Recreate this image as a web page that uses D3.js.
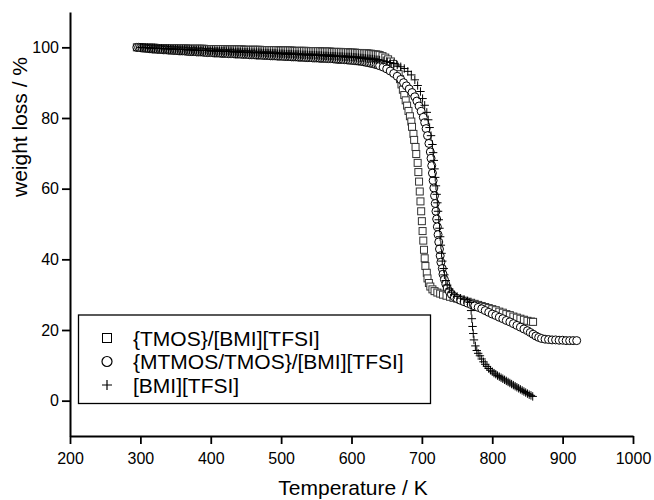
<!DOCTYPE html>
<html><head><meta charset="utf-8">
<script src="https://cdn.jsdelivr.net/npm/d3@7"></script>
<style>body{margin:0;background:#fff}text{font-family:Arial,"Liberation Sans",sans-serif;fill:#000}</style>
</head><body><svg id="c" width="654" height="500"></svg>
<script>
const xMajorTicks=[200,300,400,500,600,700,800,900,1000];
const xMinorTicks=[250,350,450,550,650,750,850,950];
const yMajorTicks=[0,20,40,60,80,100];
const yMinorTicks=[-10,10,30,50,70,90,110];
const seriesNames=["{TMOS}/[BMI][TFSI]","{MTMOS/TMOS}/[BMI][TFSI]","[BMI][TFSI]"];
const xTitle="Temperature / K", yTitle="weight loss / %";

// plateau region: shared temperature readings (K)
const plateauT=[295,297.5,300,302.5,305,307.5,310,312.5,315,317.5,
320,322.5,325,327.5,330,332.5,335,337.5,340,342.5,
345,347.5,350,352.5,355,357.5,360,362.5,365,367.5,
370,372.5,375,377.5,380,382.5,385,387.5,390,392.5,
395,397.5,400,402.5,405,407.5,410,412.5,415,417.5,
420,422.5,425,427.5,430,432.5,435,437.5,440,442.5,
445,447.5,450,452.5,455,457.5,460,462.5,465,467.5,
470,472.5,475,477.5,480,482.5,485,487.5,490,492.5,
495,497.5,500,502.5,505,507.5,510,512.5,515,517.5,
520,522.5,525,527.5,530,532.5,535,537.5,540,542.5,
545,547.5,550,552.5,555,557.5,560,562.5,565,567.5,
570,572.5,575,577.5,580,582.5,585,587.5,590,592.5,
595,597.5,600,602.5,605,607.5,610,612.5,615,617.5,
620,622.5,625,627.5,630,632.5,635,637.5,640];
const tmosPlateau=[100.0,100.0,100.0,100.0,99.9,99.9,99.9,99.9,99.9,99.9,
99.9,99.8,99.8,99.8,99.8,99.8,99.8,99.8,99.8,99.7,
99.7,99.7,99.7,99.7,99.7,99.7,99.7,99.7,99.7,99.6,
99.6,99.6,99.6,99.6,99.6,99.6,99.6,99.6,99.6,99.5,
99.5,99.5,99.5,99.5,99.5,99.5,99.5,99.5,99.5,99.5,
99.5,99.4,99.4,99.4,99.4,99.4,99.4,99.4,99.4,99.4,
99.4,99.3,99.3,99.3,99.3,99.3,99.3,99.3,99.3,99.3,
99.3,99.2,99.2,99.2,99.2,99.2,99.2,99.2,99.2,99.2,
99.2,99.1,99.1,99.1,99.1,99.1,99.1,99.1,99.1,99.0,
99.0,99.0,99.0,99.0,99.0,99.0,99.0,98.9,98.9,98.9,
98.9,98.9,98.9,98.9,98.9,98.8,98.8,98.8,98.8,98.8,
98.8,98.7,98.7,98.7,98.7,98.7,98.7,98.6,98.6,98.6,
98.6,98.5,98.5,98.5,98.5,98.4,98.4,98.4,98.4,98.3,
98.3,98.3,98.2,98.2,98.1,98.0,98.0,97.9,97.8];
const mtmosPlateau=[100.0,100.0,99.9,99.8,99.8,99.7,99.7,99.6,99.6,99.5,
99.5,99.5,99.4,99.4,99.4,99.3,99.3,99.3,99.2,99.2,
99.2,99.1,99.1,99.1,99.0,99.0,99.0,99.0,98.9,98.9,
98.8,98.8,98.8,98.8,98.7,98.7,98.7,98.7,98.6,98.6,
98.5,98.5,98.5,98.5,98.4,98.4,98.4,98.4,98.3,98.3,
98.3,98.3,98.2,98.2,98.2,98.2,98.1,98.1,98.1,98.1,
98.0,98.0,98.0,98.0,97.9,97.9,97.9,97.9,97.8,97.8,
97.8,97.8,97.7,97.7,97.7,97.7,97.6,97.6,97.6,97.6,
97.5,97.5,97.5,97.5,97.4,97.4,97.4,97.4,97.3,97.3,
97.3,97.3,97.2,97.2,97.2,97.2,97.1,97.1,97.1,97.1,
97.0,97.0,97.0,97.0,96.9,96.9,96.9,96.9,96.8,96.8,
96.8,96.8,96.7,96.7,96.6,96.6,96.6,96.6,96.5,96.5,
96.4,96.4,96.3,96.3,96.2,96.2,96.1,96.1,96.0,95.9,
95.8,95.7,95.6,95.5,95.4,95.3,95.1,95.0,94.8];
const bmiPlateau=[null,null,100.0,100.0,99.9,99.9,99.9,99.8,99.8,99.8,
99.8,99.7,99.7,99.7,99.7,99.6,99.6,99.6,99.6,99.5,
99.5,99.5,99.5,99.5,99.4,99.4,99.4,99.4,99.3,99.3,
99.3,99.3,99.2,99.2,99.2,99.2,99.1,99.1,99.1,99.1,
99.1,99.0,99.0,99.0,99.0,98.9,98.9,98.9,98.9,98.9,
98.9,98.8,98.8,98.8,98.8,98.7,98.7,98.7,98.7,98.7,
98.6,98.6,98.6,98.6,98.5,98.5,98.5,98.5,98.5,98.5,
98.5,98.4,98.4,98.4,98.4,98.3,98.3,98.3,98.3,98.3,
98.2,98.2,98.2,98.2,98.1,98.1,98.1,98.1,98.1,98.0,
98.0,98.0,98.0,97.9,97.9,97.9,97.9,97.9,97.8,97.8,
97.8,97.8,97.8,97.7,97.7,97.7,97.6,97.6,97.6,97.5,
97.5,97.5,97.5,97.5,97.4,97.4,97.4,97.4,97.3,97.3,
97.3,97.3,97.3,97.2,97.2,97.1,97.1,97.0,97.0,96.9,
96.9,96.8,96.8,96.7,96.7,96.6,96.5,96.5,96.4];

// decomposition and residue region: [T (K), weight %]
const tmosHigh=[[644,97.5],[648,97.1],[652,96.6],[656,96.0],[659,95.3],[662,94.5],[665,93.6],[667,92.4],[669,91.0],[671,89.5],[673,88.0],[675,86.5],[677,85.0],[679,83.5],[681,82.0],[683,80.5],[685,79.0],[686,77.5],[688,75.5],[689,73.8],[691,71.8],[692,69.8],[694,67.3],[695,64.7],[696,62.0],[697,59.2],[698,56.4],[699,53.6],[700,50.8],[701,48.0],[702,45.3],[703,42.7],[704,40.3],[705,38.1],[707,36.2],[708,34.6],[710,33.3],[712,32.3],[715,31.5],[718,31.0],[722,30.6],
[726,30.3],[730,30.0],[735,29.7],[740,29.4],[745,29.1],[750,28.9],[755,28.6],[760,28.3],[765,28.0],[770,27.7],[775,27.4],[780,27.1],[785,26.8],[790,26.5],[795,26.2],[800,25.9],[805,25.6],[810,25.2],[815,24.9],[820,24.5],[825,24.2],[830,23.8],[835,23.5],[840,23.2],[845,22.9],[850,22.6],[855,22.4],[858,22.3]];

const mtmosHigh=[[645,94.4],[650,93.9],[655,93.3],[660,92.6],[665,91.8],[670,90.9],[674,90.0],[678,89.1],[682,88.2],[686,87.2],[690,86.0],[693,84.8],[696,83.4],[699,81.9],[702,80.2],[704,78.7],[706,77.0],[708,75.0],[710,72.8],[712,70.4],[713,68.6],[714,66.5],[715,64.4],[716,62.3],[717,60.2],[718,58.0],[719,55.8],[720,53.6],[721,51.4],[722,49.2],[723,47.0],[724,44.9],[725,42.9],[726,41.0],[727,39.2],[729,37.4],[730,35.8],[732,34.3],[734,33.0],[736,31.9],[739,30.9],[742,30.1],[746,29.4],[750,28.9],
[755,28.4],[760,28.0],[765,27.6],[770,27.2],[775,26.8],[780,26.4],[785,26.0],[790,25.5],[795,25.0],[800,24.5],[805,24.1],[810,23.6],[815,23.2],[820,22.7],[825,22.3],[830,21.8],[835,21.3],[840,20.8],[845,20.3],[850,19.8],[854,19.3],[858,18.8],[862,18.3],[866,17.9],[870,17.6],[875,17.4],[880,17.3],[885,17.2],[890,17.2],[895,17.1],[900,17.1],[905,17.0],[910,17.0],[915,17.0],[920,17.0]];

const bmiHigh=[[645,96.2],[650,96.0],[655,95.7],[660,95.4],[665,95.0],[670,94.5],[675,94.0],[680,93.2],[685,92.2],[690,90.8],[694,89.2],[698,87.5],[701,85.5],[704,83.6],[707,81.6],[709,79.5],[711,77.3],[713,75.0],[715,72.5],[716,70.2],[717,68.0],[718,65.6],[719,63.2],[720,60.8],[721,58.4],[722,56.0],[723,53.6],[724,51.2],[725,48.8],[726,46.4],[727,44.0],[728,41.7],[729,39.5],[731,37.4],[732,35.6],[734,34.0],[736,32.7],[739,31.6],[742,30.7],[746,30.0],[750,29.5],[755,29.0],[760,28.6],[765,28.2],[768,27.8],
[770,25.5],[771,23.2],[772,21.0],[773,19.0],[774,17.2],[776,15.5],[778,14.2],[780,13.4],[782.5,12.7],[785,11.8],[787.5,11.0],[790,10.3],[792.5,9.7],[795,9.1],[797.5,8.6],[800,8.2],[802.5,7.8],[805,7.5],[807.5,7.1],[810,6.8],[812.5,6.5],[815,6.2],[817.5,5.9],[820,5.6],[822.5,5.3],[825,5.0],[827.5,4.7],[830,4.4],[832.5,4.1],[835,3.8],[837.5,3.5],[840,3.2],[842.5,2.9],[845,2.6],[847.5,2.3],[850,2.0],[852.5,1.7],[855,1.5],[857.5,1.2]];

function join(vals,high){return plateauT.map((t,i)=>[t,vals[i]]).filter(d=>d[1]!=null).concat(high);}
const tmos=join(tmosPlateau,tmosHigh), mtmos=join(mtmosPlateau,mtmosHigh), bmi=join(bmiPlateau,bmiHigh);

const svg=d3.select("#c");
const x=d3.scaleLinear().domain([200,1000]).range([70,633]);
const y=d3.scaleLinear().domain([-10,110]).range([436,12]);

// axes
const gx=svg.append("g").attr("transform","translate(0,436)");
gx.call(d3.axisBottom(x).tickValues(xMinorTicks).tickSize(5).tickFormat(""));
gx.call(d3.axisBottom(x).tickValues(xMajorTicks).tickSize(8).tickSizeOuter(0).tickPadding(9).tickFormat(d3.format("d")));
const gy=svg.append("g").attr("transform","translate(70,0)");
gy.call(d3.axisLeft(y).tickValues(yMinorTicks).tickSize(5).tickFormat(""));
gy.call(d3.axisLeft(y).tickValues(yMajorTicks).tickSize(8).tickSizeOuter(0).tickPadding(3).tickFormat(d3.format("d")));
svg.selectAll(".domain").attr("stroke","#000").attr("stroke-width",2);
svg.selectAll(".tick line").attr("stroke","#000").attr("stroke-width",1.8);
svg.selectAll(".tick text").attr("font-size",16).attr("font-family","Arial, 'Liberation Sans', sans-serif");

// titles
svg.append("text").attr("x",353).attr("y",495).attr("text-anchor","middle").attr("font-size",21).text(xTitle);
svg.append("text").attr("transform","translate(27,127) rotate(-90)").attr("text-anchor","middle").attr("font-size",21).text(yTitle);

// marks
const plot=svg.append("g");
const sq=7, cr=4, cs=4.2;
function drawSquares(g,data,s){g.selectAll(null).data(data).join("rect")
  .attr("x",d=>x(d[0])-s/2).attr("y",d=>y(d[1])-s/2).attr("width",s).attr("height",s)
  .attr("fill","#fff").attr("stroke","#333").attr("stroke-width",1);}
function drawCircles(g,data,r){g.selectAll(null).data(data).join("circle")
  .attr("cx",d=>x(d[0])).attr("cy",d=>y(d[1])).attr("r",r)
  .attr("fill","#fff").attr("stroke","#000").attr("stroke-width",1);}
function drawCrosses(g,data,s){g.selectAll(null).data(data).join("path")
  .attr("d",d=>`M${x(d[0])-s},${y(d[1])}H${x(d[0])+s}M${x(d[0])},${y(d[1])-s}V${y(d[1])+s}`)
  .attr("stroke","#000").attr("stroke-width",1).attr("fill","none");}
drawSquares(plot.append("g"),tmos,sq);
drawCircles(plot.append("g"),mtmos,cr);
drawCrosses(plot.append("g"),bmi,cs);

// legend
const lg=svg.append("g");
lg.append("rect").attr("x",78.5).attr("y",315).attr("width",352).attr("height",88.5)
  .attr("fill","#fff").attr("stroke","#000").attr("stroke-width",1.3);
const rows=[345.5,369,392.5];
const mx=107;
lg.append("rect").attr("x",mx-4.5).attr("y",rows[0]-7.5-4.5).attr("width",9).attr("height",9).attr("fill","#fff").attr("stroke","#000").attr("stroke-width",1);
lg.append("circle").attr("cx",mx).attr("cy",rows[1]-7.5).attr("r",5).attr("fill","#fff").attr("stroke","#000").attr("stroke-width",1.2);
lg.append("path").attr("d",`M${mx-5},${rows[2]-7.5}H${mx+5}M${mx},${rows[2]-12.5}V${rows[2]-2.5}`).attr("stroke","#000").attr("stroke-width",1.2);
seriesNames.forEach((n,i)=>lg.append("text").attr("x",133).attr("y",rows[i]).attr("font-size",21).text(n));
</script></body></html>
